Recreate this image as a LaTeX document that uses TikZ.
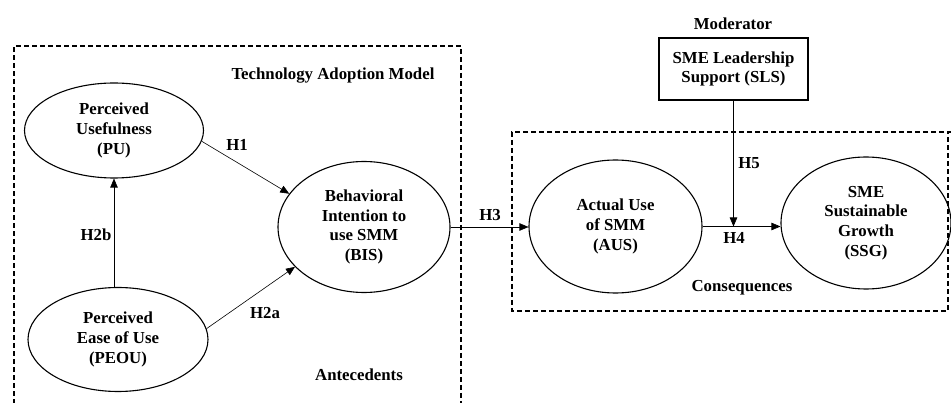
\documentclass[tikz,border=0pt]{standalone}
\usepackage{fontspec}
\setmainfont{Liberation Serif}
\usetikzlibrary{shapes.geometric,arrows.meta}
\begin{document}
\begin{tikzpicture}[x=1pt,y=-1pt,
  every node/.style={font=\fontsize{16.8}{19.6}\selectfont\bfseries},
  construct/.style={draw,ellipse,line width=1.1pt,inner sep=0pt,align=center},
  lbl/.style={inner sep=0pt},
  zone/.style={draw,line width=1.8pt,dash pattern=on 5pt off 3pt},
  link/.style={line width=0.6pt,-{Triangle[length=9pt,width=7.5pt]}}]
\useasboundingbox (0,0) rectangle (951,403);
% zones
\draw[zone] (14,420) -- (14,46) -- (461,46) -- (461,420);
\draw[zone] (960,132) -- (512,132) -- (512,311) -- (948,311) -- (948,132);
% constructs
\node[construct,minimum width=179pt,minimum height=95pt] (pu) at (114,130.5) {Perceived\\Usefulness\\(PU)};
\node[construct,minimum width=180pt,minimum height=104pt] (peou) at (118,339.5) {Perceived\\Ease of Use\\(PEOU)};
\node[construct,minimum width=172pt,minimum height=131pt] (bis) at (364,227) {Behavioral\\Intention to\\use SMM\\(BIS)};
\node[construct,minimum width=173pt,minimum height=133pt] (aus) at (615.5,226.5) {Actual Use\\of SMM\\(AUS)};
\node[construct,minimum width=170pt,minimum height=132pt] (ssg) at (866,223) {SME\\Sustainable\\Growth\\(SSG)};
\node[draw,line width=1.1pt,minimum width=149pt,minimum height=62pt,align=center,inner sep=0pt] (sls) at (733.5,69) {SME Leadership\\Support (SLS)};
% texts
\node[lbl] (mod) at (733,24) {Moderator};
\node[lbl] (tam) at (333,76) {Technology Adoption Model};
\node[lbl] (ant) at (359,375) {Antecedents};
\node[lbl] (con) at (742,288) {Consequences};
% connectors
\draw[link] (pu.-7) -- (bis.156);
\node[lbl] (h1) at (237,145) {H1};
\draw[link] (peou.north -| pu.south) -- (pu.south);
\node[lbl] (h2b) at (96,235) {H2b};
\draw[link] (peou.7) -- (bis.210);
\node[lbl] (h2a) at (265,313) {H2a};
\draw[link] (bis.east) -- (bis.east -| aus.west);
\node[lbl] (h3) at (490,215) {H3};
\coordinate (j) at (sls.south |- aus.east);
\draw[link] (aus.east) -- (aus.east -| ssg.west);
\node[lbl] (h4) at (734,238) {H4};
\draw[link] (sls.south) -- (j);
\node[lbl] (h5) at (749,163) {H5};
\end{tikzpicture}
\end{document}
